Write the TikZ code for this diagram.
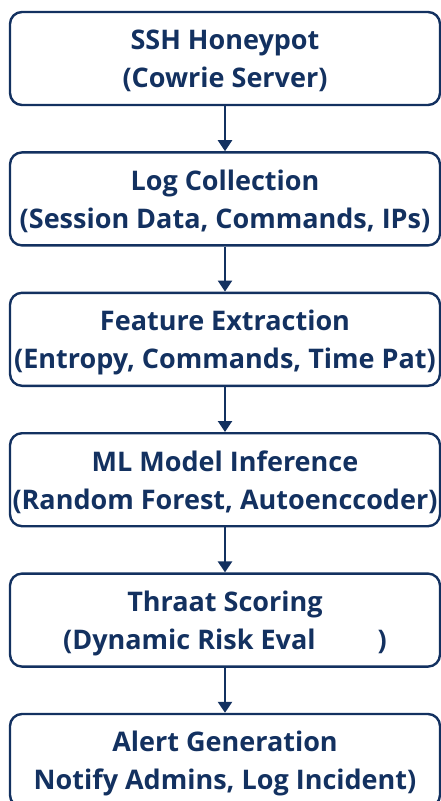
\documentclass[tikz,border=0pt]{standalone}
\usepackage{fontspec}
\setmainfont{Open Sans}
\usepackage{tikz}
\usetikzlibrary{arrows.meta,positioning}
\definecolor{navy}{HTML}{133160}

\begin{document}
\begin{tikzpicture}[
  x=1pt, y=1pt,
  node distance=45pt,
  box/.style={draw=navy, line width=2.4pt, rounded corners=12pt, align=center,
    minimum width=430pt, minimum height=93pt, inner xsep=2pt, text=navy,
    text depth=0pt, font=\fontsize{27}{38}\selectfont\bfseries},
  arrow/.style={-{Triangle[width=14pt,length=11pt]}, line width=2.4pt, draw=navy}
]
\useasboundingbox (0,0) rectangle (441,-801);
\node[box] (honeypot) at (225,-58.5) {SSH Honeypot\\(Cowrie Server)};
\node[box, below=of honeypot] (logs) {Log Collection\\(Session Data, Commands, IPs)};
\node[box, below=of logs] (features) {Feature Extraction\\(Entropy, Commands, Time Pat)};
\node[box, below=of features] (model) {ML Model Inference\\(Random Forest, Autoenccoder)};
\node[box, below=of model] (scoring) {Thraat Scoring\\(Dynamic Risk Eval\hspace{62pt})};
\node[box, below=of scoring] (alert) {Alert Generation\\Notify Admins, Log Incident)};
\draw[arrow] (honeypot) -- (logs);
\draw[arrow] (logs) -- (features);
\draw[arrow] (features) -- (model);
\draw[arrow] (model) -- (scoring);
\draw[arrow] (scoring) -- (alert);
\end{tikzpicture}
\end{document}
